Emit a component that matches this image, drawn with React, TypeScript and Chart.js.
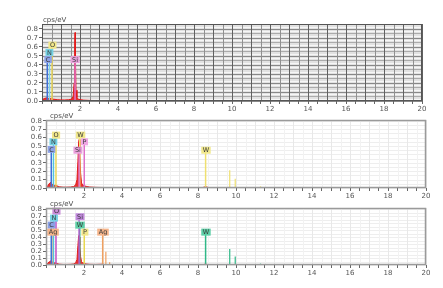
import { useEffect, useRef } from "react";
import { Chart, registerables } from "chart.js";
Chart.register(...registerables);

// ---------- Data ----------
// Panel 1 spectrum
const p1Energy = [0, 0.05, 0.15, 0.25, 0.3, 0.4, 0.5, 0.6, 0.8, 1.0, 1.2, 1.4, 1.55, 1.64, 1.69, 1.72, 1.74, 1.76, 1.79, 1.84, 1.9, 2.0, 2.2, 2.6, 3.2, 4.0, 6.0, 10.0, 20.0];
const p1Counts = [0, 0.02, 0.03, 0.035, 0.03, 0.025, 0.03, 0.02, 0.015, 0.012, 0.012, 0.014, 0.02, 0.05, 0.2, 0.62, 0.76, 0.45, 0.12, 0.04, 0.02, 0.015, 0.01, 0.006, 0.004, 0.003, 0.002, 0.001, 0];
const p1Elements = ["C", "N", "O", "Si"];
const p1LineEnergy = [0.277, 0.392, 0.525, 1.74];
const p1LabelEnergy = [0.32, 0.39, 0.55, 1.74];
const p1LabelLevel = [0.46, 0.54, 0.62, 0.46];
const p1MinorEnergy: number[] = [];
const p1MinorLevel: number[] = [];

// Panel 2 spectrum
const p2Energy = [0, 0.1, 0.2, 0.26, 0.3, 0.36, 0.4, 0.46, 0.52, 0.58, 0.7, 0.9, 1.1, 1.3, 1.45, 1.56, 1.63, 1.68, 1.72, 1.75, 1.78, 1.82, 1.87, 1.93, 2.0, 2.1, 2.3, 2.6, 3.0, 4.0, 6.0, 8.2, 8.4, 8.6, 9.5, 9.67, 9.8, 9.96, 10.1, 11.3, 13.0, 20.0];
const p2Counts = [0, 0.03, 0.06, 0.07, 0.05, 0.04, 0.035, 0.03, 0.035, 0.025, 0.015, 0.01, 0.01, 0.012, 0.018, 0.035, 0.1, 0.32, 0.55, 0.58, 0.42, 0.18, 0.06, 0.035, 0.03, 0.02, 0.012, 0.008, 0.006, 0.004, 0.003, 0.003, 0.015, 0.003, 0.003, 0.008, 0.003, 0.005, 0.002, 0.003, 0.001, 0];
const p2Elements = ["C", "N", "O", "Si", "W", "P", "W"];
const p2LineEnergy = [0.277, 0.392, 0.525, 1.74, 1.775, 2.013, 8.4];
const p2LabelEnergy = [0.29, 0.39, 0.53, 1.68, 1.82, 2.03, 8.42];
const p2LabelLevel = [0.46, 0.55, 0.63, 0.45, 0.63, 0.55, 0.45];
const p2MinorEnergy = [9.67, 9.96, 11.29];
const p2MinorLevel = [0.21, 0.11, 0.02];
const p2MinorElement = ["W", "W", "W"];

// Panel 3 spectrum
const p3Energy = [0, 0.1, 0.2, 0.26, 0.3, 0.36, 0.4, 0.46, 0.52, 0.58, 0.7, 0.9, 1.1, 1.3, 1.45, 1.56, 1.63, 1.68, 1.72, 1.75, 1.78, 1.82, 1.87, 1.93, 2.0, 2.1, 2.3, 2.6, 2.98, 3.1, 3.5, 4.0, 6.0, 8.2, 8.4, 8.6, 9.5, 9.67, 9.8, 9.96, 10.1, 11.3, 13.0, 20.0];
const p3Counts = [0, 0.03, 0.05, 0.06, 0.05, 0.04, 0.035, 0.03, 0.03, 0.02, 0.012, 0.008, 0.008, 0.01, 0.015, 0.03, 0.08, 0.28, 0.42, 0.4, 0.28, 0.12, 0.05, 0.03, 0.025, 0.015, 0.01, 0.008, 0.012, 0.006, 0.005, 0.004, 0.003, 0.003, 0.012, 0.003, 0.003, 0.006, 0.003, 0.004, 0.002, 0.003, 0.001, 0];
const p3Elements = ["O", "N", "C", "Ag", "Si", "W", "P", "Ag", "W"];
const p3LineEnergy = [0.525, 0.392, 0.277, 0.31, 1.74, 1.775, 2.013, 2.984, 8.4];
const p3LabelEnergy = [0.55, 0.42, 0.29, 0.37, 1.79, 1.79, 2.05, 3.0, 8.42];
const p3LabelLevel = [0.77, 0.67, 0.57, 0.47, 0.69, 0.57, 0.47, 0.47, 0.47];
const p3MinorEnergy = [3.15, 3.35, 9.67, 9.96, 11.29, 11.6];
const p3MinorLevel = [0.19, 0.04, 0.23, 0.12, 0.02, 0.01];
const p3MinorElement = ["Ag", "Ag", "W", "W", "W", "W"];

const xLabelValues = [2, 4, 6, 8, 10, 12, 14, 16, 18, 20];
const yTickValues = [0, 0.1, 0.2, 0.3, 0.4, 0.5, 0.6, 0.7, 0.8];

// ---------- Styles ----------
const styles1: Record<string, { line: string; box: string }> = {
  C: { line: "#3f6fd8", box: "#8da2e6" },
  N: { line: "#7fd3ea", box: "#74d2e4" },
  O: { line: "#ecd85a", box: "#f1e78a" },
  Si: { line: "#e070c8", box: "#e8a2dc" },
};
const styles2: Record<string, { line: string; box: string }> = {
  C: { line: "#3f6fd8", box: "#8da2e6" },
  N: { line: "#52c4dc", box: "#74d2e4" },
  O: { line: "#ecd85a", box: "#f1e78a" },
  Si: { line: "#e070c8", box: "#eaa0dc" },
  W: { line: "#efe070", box: "#f1e88c" },
  P: { line: "#e070c8", box: "#f0a6e4" },
};
const styles3: Record<string, { line: string; box: string }> = {
  C: { line: "#3f6fd8", box: "#8aa0e6" },
  N: { line: "#52c4dc", box: "#74d2e4" },
  O: { line: "#c050c8", box: "#c98ad8" },
  Ag: { line: "#f0a060", box: "#f5b48a" },
  Si: { line: "#b060d0", box: "#c28ade" },
  W: { line: "#30b888", box: "#5ccfa6" },
  P: { line: "#e8d850", box: "#f1e68a" },
};

type PanelDef = {
  top: number; height: number; left: number; right: number;
  plotTop: number; plotBottom: number; yMax: number; dense: boolean;
  energy: number[]; counts: number[];
  elements: string[]; lineEnergy: number[]; labelEnergy: number[]; labelLevel: number[];
  minorEnergy: number[]; minorLevel: number[]; minorElement: string[];
  styles: Record<string, { line: string; box: string }>;
};

const panels: PanelDef[] = [
  { top: 8, height: 106, left: 42, right: 422, plotTop: 24, plotBottom: 101, yMax: 0.855, dense: true,
    energy: p1Energy, counts: p1Counts, elements: p1Elements, lineEnergy: p1LineEnergy,
    labelEnergy: p1LabelEnergy, labelLevel: p1LabelLevel, minorEnergy: p1MinorEnergy, minorLevel: p1MinorLevel,
    minorElement: [], styles: styles1 },
  { top: 110, height: 92, left: 46, right: 426, plotTop: 120, plotBottom: 188, yMax: 0.81, dense: false,
    energy: p2Energy, counts: p2Counts, elements: p2Elements, lineEnergy: p2LineEnergy,
    labelEnergy: p2LabelEnergy, labelLevel: p2LabelLevel, minorEnergy: p2MinorEnergy, minorLevel: p2MinorLevel,
    minorElement: p2MinorElement, styles: styles2 },
  { top: 198, height: 84, left: 46, right: 426, plotTop: 208, plotBottom: 265, yMax: 0.815, dense: false,
    energy: p3Energy, counts: p3Counts, elements: p3Elements, lineEnergy: p3LineEnergy,
    labelEnergy: p3LabelEnergy, labelLevel: p3LabelLevel, minorEnergy: p3MinorEnergy, minorLevel: p3MinorLevel,
    minorElement: p3MinorElement, styles: styles3 },
];

const FONT = "'DejaVu Sans', Verdana, sans-serif";

function Panel({ p }: { p: PanelDef }) {
  const ref = useRef<HTMLCanvasElement>(null);
  useEffect(() => {
    const canvas = ref.current!;
    const datasets: any[] = [];
    datasets.push({
      data: p.energy.map((e, i) => ({ x: e, y: p.counts[i] })),
      borderColor: "#e21c1c", backgroundColor: "rgba(228,28,28,0.9)", borderWidth: 1,
      fill: "origin", pointRadius: 0, tension: 0, order: 2,
    });
    p.elements.forEach((el, i) => {
      datasets.push({
        data: [{ x: p.lineEnergy[i], y: 0 }, { x: p.lineEnergy[i], y: p.labelLevel[i] }],
        borderColor: p.styles[el].line, borderWidth: 1.5, pointRadius: 0, fill: false, order: 1,
      });
    });
    p.minorEnergy.forEach((e, i) => {
      datasets.push({
        data: [{ x: e, y: 0 }, { x: e, y: p.minorLevel[i] }],
        borderColor: p.styles[p.minorElement[i]].line, borderWidth: 1.2, pointRadius: 0, fill: false, order: 1,
      });
    });

    const bgPlugin = {
      id: "bgGrid",
      beforeDraw(chart: any) {
        const { ctx, chartArea: a, scales } = chart;
        const xs = scales.x, ys = scales.y;
        ctx.save();
        if (p.dense) {
          ctx.fillStyle = "#e2e2e2";
          ctx.fillRect(a.left, a.top, a.right - a.left, a.bottom - a.top);
          for (let k = 0; k * 0.025 <= p.yMax + 1e-9; k++) {
            const y = Math.round(ys.getPixelForValue(k * 0.025)) + 0.5;
            ctx.strokeStyle = k % 4 === 0 ? "#888888" : k % 2 === 0 ? "#ababab" : "#f6f6f6";
            ctx.lineWidth = 1;
            ctx.beginPath(); ctx.moveTo(a.left, y); ctx.lineTo(a.right, y); ctx.stroke();
          }
          for (let k = 0; k <= 40; k++) {
            const x = Math.round(xs.getPixelForValue(k * 0.5)) + 0.5;
            ctx.strokeStyle = k % 2 === 0 ? "#606060" : "#909090";
            ctx.lineWidth = 1;
            ctx.beginPath(); ctx.moveTo(x, a.top); ctx.lineTo(x, a.bottom); ctx.stroke();
          }
        } else {
          ctx.fillStyle = "#ffffff";
          ctx.fillRect(a.left, a.top, a.right - a.left, a.bottom - a.top);
          ctx.lineWidth = 1;
          for (let k = 0; k * 0.05 <= p.yMax + 1e-9; k++) {
            const y = Math.round(ys.getPixelForValue(k * 0.05)) + 0.5;
            ctx.strokeStyle = "#eeeeee";
            ctx.beginPath(); ctx.moveTo(a.left, y); ctx.lineTo(a.right, y); ctx.stroke();
          }
          for (let k = 0; k <= 40; k++) {
            const x = Math.round(xs.getPixelForValue(k * 0.5)) + 0.5;
            ctx.strokeStyle = k % 2 === 0 ? "#e8e8e8" : "#f2f2f2";
            ctx.beginPath(); ctx.moveTo(x, a.top); ctx.lineTo(x, a.bottom); ctx.stroke();
          }
        }
        ctx.restore();
      },
      afterDatasetsDraw(chart: any) {
        const { ctx, chartArea: a, scales } = chart;
        const xs = scales.x, ys = scales.y;
        ctx.save();
        // element labels
        ctx.font = `6.5px ${FONT}`;
        ctx.textAlign = "center";
        ctx.textBaseline = "middle";
        p.elements.forEach((el, i) => {
          const cx = xs.getPixelForValue(p.labelEnergy[i]);
          const cy = ys.getPixelForValue(p.labelLevel[i]);
          const tw = ctx.measureText(el).width;
          const w = tw + 3, h = 7;
          ctx.fillStyle = p.styles[el].box;
          ctx.fillRect(cx - w / 2, cy - h / 2, w, h);
          ctx.fillStyle = "#3a3a3a";
          ctx.fillText(el, cx, cy + 0.5);
        });
        // border
        ctx.strokeStyle = p.dense ? "#555555" : "#9a9a9a";
        ctx.lineWidth = p.dense ? 1 : 1.5;
        ctx.strokeRect(a.left + 0.5, a.top + 0.5, a.right - a.left - 1, a.bottom - a.top - 1);
        // unit label
        ctx.font = `7px ${FONT}`;
        ctx.textAlign = "left";
        ctx.textBaseline = "bottom";
        ctx.fillStyle = "#4a4a4a";
        ctx.fillText("cps/eV", a.left + (p.dense ? 1 : 4), a.top - 0.5);
        ctx.restore();
      },
    };

    const chart = new Chart(canvas, {
      type: "line",
      data: { datasets },
      options: {
        animation: false,
        responsive: false,
        devicePixelRatio: 1,
        layout: { padding: { left: 0, right: 443 - p.right, top: p.plotTop - p.top, bottom: 0 } },
        plugins: { legend: { display: false }, tooltip: { enabled: false } },
        scales: {
          x: {
            type: "linear", min: 0, max: 20,
            afterFit: (s: any) => { s.height = p.height - (p.plotBottom - p.top); },
            border: { display: false },
            grid: { drawOnChartArea: false, drawTicks: true, tickLength: 3, tickColor: "#666" },
            ticks: {
              stepSize: 0.5, autoSkip: false, maxRotation: 0, padding: 1,
              color: "#555", font: { family: FONT, size: 7 },
              callback: (v: any) => (xLabelValues.includes(Number(v)) ? String(v) : ""),
            },
          },
          y: {
            type: "linear", min: 0, max: p.yMax,
            afterFit: (s: any) => { s.width = p.left; },
            afterBuildTicks: (s: any) => { s.ticks = yTickValues.map((v) => ({ value: v })); },
            border: { display: false },
            grid: { drawOnChartArea: false, drawTicks: true, tickLength: 3, tickColor: "#666" },
            ticks: {
              autoSkip: false, padding: 1, color: "#555", font: { family: FONT, size: 7 },
              callback: (v: any) => Number(v).toFixed(1),
            },
          },
        },
      },
      plugins: [bgPlugin],
    });
    return () => chart.destroy();
  }, [p]);
  return (
    <canvas
      ref={ref}
      width={443}
      height={p.height}
      style={{ position: "absolute", left: 0, top: p.top, width: 443, height: p.height }}
    />
  );
}

export default function App() {
  return (
    <div style={{ position: "fixed", left: 0, top: 0, width: 443, height: 288, background: "#fff", overflow: "hidden" }}>
      {panels.map((p, i) => (
        <Panel key={i} p={p} />
      ))}
    </div>
  );
}
